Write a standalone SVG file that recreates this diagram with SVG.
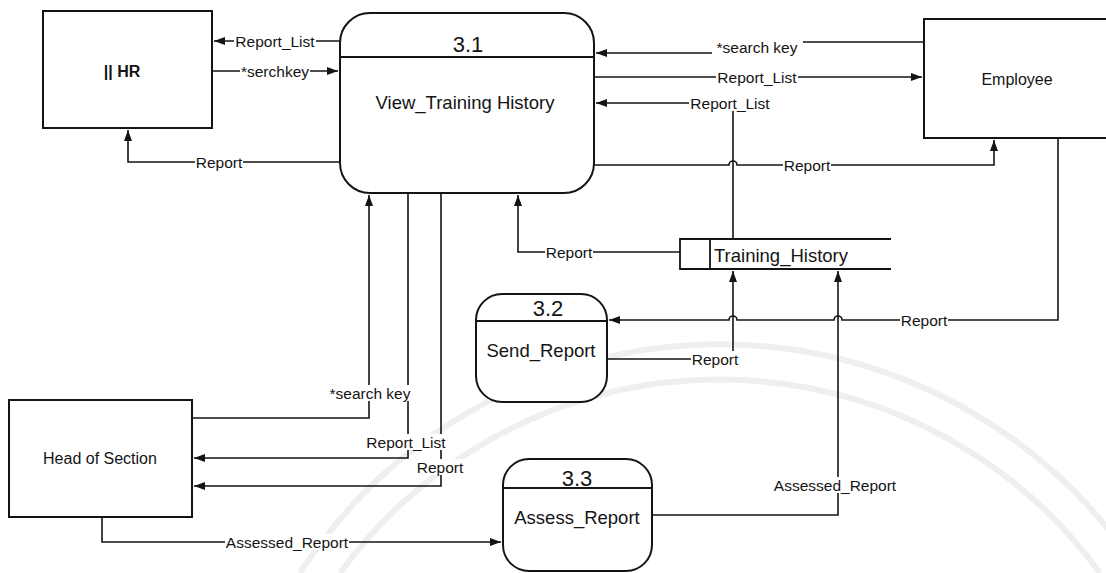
<svg xmlns="http://www.w3.org/2000/svg" width="1106" height="573" viewBox="0 0 1106 573">
  <style>
    .box { fill: #fff; stroke: #141414; stroke-width: 2; }
    .div { stroke: #141414; stroke-width: 1.8; fill: none; }
    .flow { fill: none; stroke: #141414; stroke-width: 1.6; }
    .arrow { marker-end: url(#head); }
    .bg { fill: #fff; }
    text { font-family: "Liberation Sans", Arial, sans-serif; fill: #141414; dominant-baseline: central; }
    .lbl { font-size: 15.5px; text-anchor: middle; }
    .ent { font-size: 16px; text-anchor: middle; }
    .num { font-size: 22px; text-anchor: middle; }
    .proc { font-size: 18.5px; text-anchor: middle; }
    .seal { fill: none; stroke: #efefef; stroke-width: 6; }
  </style>
  <defs>
    <marker id="head" viewBox="0 0 11 8" refX="11" refY="4" markerWidth="11" markerHeight="8" markerUnits="userSpaceOnUse" orient="auto">
      <path d="M0,0 L11,4 L0,8 z" fill="#141414"/>
    </marker>
  </defs>

  <rect width="1106" height="573" fill="#fff"/>

  <!-- faint background seal -->
  <g id="seal">
    <path class="seal" d="M300,573 A500,500 0 0 1 1140,573"/>
    <path class="seal" d="M340,573 A470,470 0 0 1 1100,573"/>
  </g>

  <!-- external entities -->
  <g id="hr">
    <rect class="box" x="43" y="11" width="169" height="117"/>
    <text class="ent" x="122" y="71" font-weight="bold">|| HR</text>
  </g>
  <g id="employee">
    <rect class="box" x="924" y="19" width="190" height="119"/>
    <text class="ent" x="1017" y="79">Employee</text>
  </g>
  <g id="head-of-section">
    <rect class="box" x="9" y="400" width="183" height="117"/>
    <text class="ent" x="100" y="458">Head of Section</text>
  </g>

  <!-- processes -->
  <g id="p3-1">
    <rect class="box" x="340" y="13" width="254" height="180" rx="30" ry="30"/>
    <line class="div" x1="340" y1="57" x2="594" y2="57"/>
    <text class="num" x="468" y="44">3.1</text>
    <text class="proc" x="465" y="102">View_Training History</text>
  </g>
  <g id="p3-2">
    <rect class="box" x="476" y="294" width="131" height="108" rx="26" ry="26"/>
    <line class="div" x1="476" y1="321" x2="607" y2="321"/>
    <text class="num" x="548" y="308">3.2</text>
    <text class="proc" x="541" y="350">Send_Report</text>
  </g>
  <g id="p3-3">
    <rect class="box" x="503" y="459" width="149" height="112" rx="26" ry="26"/>
    <line class="div" x1="503" y1="488" x2="652" y2="488"/>
    <text class="num" x="577" y="478">3.3</text>
    <text class="proc" x="577" y="517">Assess_Report</text>
  </g>

  <!-- data store -->
  <g id="training-history">
    <path class="div" d="M891,239 H680 V269 H891 M710,239 V269" stroke-width="2"/>
    <text class="proc" x="714" y="255" style="text-anchor:start">Training_History</text>
  </g>

  <!-- data flows -->
  <g id="flows">
    <path class="flow arrow" d="M340,41 H214"/>
    <path class="flow arrow" d="M212,71 H338"/>
    <path class="flow arrow" d="M340,162 H128 V130"/>

    <path class="flow arrow" d="M924,42 H803 M712,53 H596"/>
    <path class="flow arrow" d="M594,77 H922"/>
    <path class="flow arrow" d="M733,239 V103 H596"/>
    <path class="flow arrow" d="M594,165 H729 A4,4 0 0 1 737,165 H994 V140"/>

    <path class="flow arrow" d="M680,252 H518 V195"/>
    <path class="flow arrow" d="M1058,138 V320 H842 A4,4 0 0 0 834,320 H737 A4,4 0 0 0 729,320 H609"/>
    <path class="flow arrow" d="M607,359 H733 V271"/>
    <path class="flow arrow" d="M652,515 H838 V271"/>

    <path class="flow arrow" d="M192,418 H369 V195"/>
    <path class="flow arrow" d="M408,193 V458 H194"/>
    <path class="flow arrow" d="M441,193 V486 H194"/>
    <path class="flow arrow" d="M102,517 V542 H501"/>
  </g>

  <!-- flow labels, each on a white plate that breaks the line behind it -->
  <g id="labels">
    <rect class="bg" x="234" y="33" width="82" height="16"/>
    <text class="lbl" x="275" y="41">Report_List</text>
    <rect class="bg" x="240" y="63" width="70" height="16"/>
    <text class="lbl" x="275" y="71">*serchkey</text>
    <rect class="bg" x="195" y="154" width="48" height="16"/>
    <text class="lbl" x="219" y="162">Report</text>
    <rect class="bg" x="716" y="39" width="82" height="16"/>
    <text class="lbl" x="757" y="47">*search key</text>
    <rect class="bg" x="716" y="69" width="82" height="16"/>
    <text class="lbl" x="757" y="77">Report_List</text>
    <rect class="bg" x="689" y="95" width="82" height="16"/>
    <text class="lbl" x="730" y="103">Report_List</text>
    <rect class="bg" x="783" y="157" width="48" height="16"/>
    <text class="lbl" x="807" y="165">Report</text>
    <rect class="bg" x="545" y="244" width="48" height="16"/>
    <text class="lbl" x="569" y="252">Report</text>
    <rect class="bg" x="900" y="312" width="48" height="16"/>
    <text class="lbl" x="924" y="320">Report</text>
    <rect class="bg" x="691" y="351" width="48" height="16"/>
    <text class="lbl" x="715" y="359">Report</text>
    <rect class="bg" x="773" y="477" width="124" height="16"/>
    <text class="lbl" x="835" y="485">Assessed_Report</text>
    <rect class="bg" x="329" y="385" width="82" height="16"/>
    <text class="lbl" x="370" y="393">*search key</text>
    <rect class="bg" x="365" y="434" width="82" height="16"/>
    <text class="lbl" x="406" y="442">Report_List</text>
    <rect class="bg" x="416" y="459" width="48" height="16"/>
    <text class="lbl" x="440" y="467">Report</text>
    <rect class="bg" x="225" y="534" width="124" height="16"/>
    <text class="lbl" x="287" y="542">Assessed_Report</text>
  </g>
</svg>
